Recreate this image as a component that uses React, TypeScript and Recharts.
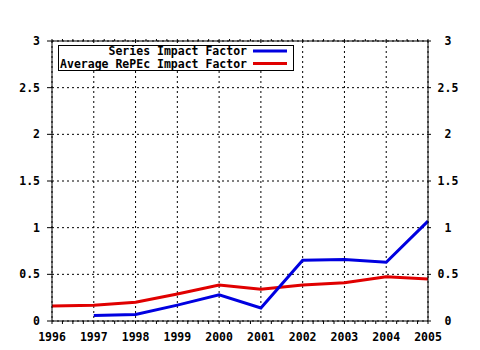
import React from 'react';
import { LineChart, Line, XAxis, YAxis, CartesianGrid } from 'recharts';

const years = [1996, 1997, 1998, 1999, 2000, 2001, 2002, 2003, 2004, 2005];
const seriesImpact = [null, 0.06, 0.07, 0.17, 0.28, 0.14, 0.65, 0.66, 0.63, 1.07];
const avgRepecImpact = [0.16, 0.17, 0.2, 0.29, 0.385, 0.34, 0.385, 0.41, 0.475, 0.45];
const yTicks = [0, 0.5, 1, 1.5, 2, 2.5, 3];
const seriesNames = ['Series Impact Factor', 'Average RePEc Impact Factor'];
const seriesColors = ['#0000e0', '#e00000'];

// quarter-year positions for the small frame ticks
const minorTicks: number[] = [];
years.forEach((y, i) => {
  if (i === 0) {
    minorTicks.push(y);
    return;
  }
  [0.25, 0.5, 0.75, 1].forEach(f => minorTicks.push(years[i - 1] + f * (y - years[i - 1])));
});

const data = years.map((year, i) => ({
  year,
  series: seriesImpact[i],
  avg: avgRepecImpact[i],
}));

const FONT = '"DejaVu Sans Mono", monospace';
const tickFont = { fill: '#000', fontSize: 11.5, fontFamily: FONT, fontWeight: 'bold' as const };

const NoTick = () => <g />;

const YearTick = (props: any) => {
  const { x, y, payload } = props;
  if (!Number.isInteger(payload.value)) return <g />;
  return (
    <text x={x} y={y} dy="0.71em" textAnchor="middle" {...tickFont}>
      {payload.value}
    </text>
  );
};

const RightTick = (props: any) => {
  const { x, y, payload } = props;
  return (
    <text x={x} y={y} dy="0.355em" textAnchor="middle" {...tickFont}>
      {payload.value}
    </text>
  );
};

const LegendBox = () => (
  <div
    style={{
      position: 'absolute',
      left: 58,
      top: 45,
      width: 234,
      height: 24,
      border: '1px solid #000',
      background: '#fff',
    }}
  >
    <svg width={236} height={26} style={{ position: 'absolute', left: -1, top: -1, overflow: 'visible' }}>
      {seriesNames.map((name, i) => (
        <g key={name}>
          <text x={189} y={6 + i * 12.5} dy="0.355em" textAnchor="end" {...tickFont}>
            {name}
          </text>
          <line x1={195} x2={229} y1={6 + i * 12.5} y2={6 + i * 12.5} stroke={seriesColors[i]} strokeWidth={3} />
        </g>
      ))}
    </svg>
  </div>
);

export default function App() {
  return (
    <div style={{ position: 'absolute', left: 0, top: 0, width: 480, height: 350, background: '#fff' }}>
      <LineChart width={480} height={350} data={data} margin={{ top: 37, right: 0, bottom: 0, left: 0 }}>
        <CartesianGrid xAxisId="grid" stroke="#000" strokeDasharray="2 3" />
        <XAxis
          dataKey="year"
          type="number"
          domain={[1996, 2005]}
          ticks={minorTicks}
          interval={0}
          height={29}
          tickSize={3}
          tickMargin={9}
          stroke="#000"
          tick={<YearTick />}
        />
        <XAxis
          xAxisId="top"
          orientation="top"
          dataKey="year"
          type="number"
          domain={[1996, 2005]}
          ticks={minorTicks}
          interval={0}
          height={4}
          tickSize={2}
          stroke="#000"
          tick={<NoTick />}
        />
        <XAxis
          xAxisId="grid"
          dataKey="year"
          type="number"
          domain={[1996, 2005]}
          ticks={years}
          interval={0}
          hide
        />
        <YAxis
          domain={[0, 3]}
          ticks={yTicks}
          interval={0}
          width={52}
          tickSize={5}
          tickMargin={7}
          stroke="#000"
          tick={tickFont}
        />
        <YAxis
          yAxisId="right"
          orientation="right"
          dataKey="avg"
          domain={[0, 3]}
          allowDataOverflow
          ticks={yTicks}
          interval={0}
          width={52}
          tickSize={3}
          tickMargin={17}
          stroke="#000"
          tick={<RightTick />}
        />
        <Line
          type="linear"
          dataKey="avg"
          name={seriesNames[1]}
          stroke={seriesColors[1]}
          strokeWidth={3}
          dot={false}
          isAnimationActive={false}
        />
        <Line
          type="linear"
          dataKey="series"
          name={seriesNames[0]}
          stroke={seriesColors[0]}
          strokeWidth={3}
          dot={false}
          isAnimationActive={false}
        />
      </LineChart>
      <LegendBox />
    </div>
  );
}
